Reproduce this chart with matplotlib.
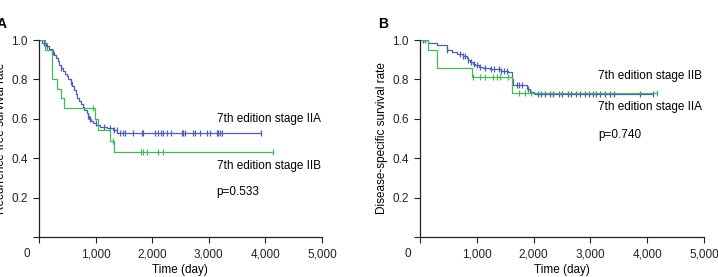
import numpy as np
import matplotlib
matplotlib.use("Agg")
import matplotlib.pyplot as plt
import matplotlib.transforms as mtransforms

plt.rcParams['font.family'] = ['Liberation Sans', 'DejaVu Sans']

# --- panel A: recurrence-free survival ---
a_iia_t = [0, 60, 120, 170, 230, 270, 300, 330, 360, 390, 420, 460, 490, 520, 560, 590,
           620, 650, 680, 710, 740, 770, 800, 840, 870, 890, 920, 960, 1010, 1080, 1200,
           1300, 1380, 3920]
a_iia_s = [1.0, 0.985, 0.97, 0.955, 0.94, 0.925, 0.91, 0.895, 0.875, 0.86, 0.845, 0.83,
           0.815, 0.80, 0.785, 0.765, 0.745, 0.725, 0.705, 0.69, 0.675, 0.66, 0.645, 0.63,
           0.615, 0.60, 0.59, 0.58, 0.57, 0.56, 0.553, 0.545, 0.527, 0.527]
a_iia_cens = [80, 140, 250, 390, 560, 870, 900, 1000, 1150, 1250, 1320, 1372, 1432, 1490,
              1520, 1667, 1814, 1830, 2050, 2097, 2150, 2197, 2256, 2327, 2521, 2550, 2580,
              2715, 2756, 2845, 2975, 3022, 3140, 3170, 3199, 3229, 3920]

a_iib_t = [0, 100, 225, 325, 385, 450, 990, 1050, 1255, 1325, 4135]
a_iib_s = [1.0, 0.95, 0.80, 0.75, 0.705, 0.655, 0.60, 0.545, 0.485, 0.43, 0.43]
a_iib_cens = [960, 1300, 1797, 1832, 1903, 2097, 2197, 4135]

# --- panel B: disease-specific survival ---
b_iia_t = [0, 145, 300, 470, 560, 645, 760, 820, 850, 880, 930, 970, 1040, 1115, 1232,
           1420, 1555, 1615, 1645, 1880, 1935, 2000, 2055, 4106]
b_iia_s = [1.0, 0.983, 0.975, 0.95, 0.94, 0.93, 0.92, 0.91, 0.90, 0.89, 0.88, 0.873,
           0.865, 0.86, 0.853, 0.845, 0.84, 0.80, 0.77, 0.75, 0.735, 0.727, 0.727, 0.727]
b_iia_cens = [60, 90, 470, 700, 760, 800, 850, 900, 950, 1000, 1060, 1150, 1250, 1310, 1390,
              1430, 1480, 1540, 1700, 1750, 1800, 1900, 2080, 2130, 2200, 2280, 2350, 2450,
              2500, 2600, 2650, 2750, 2820, 2900, 2980, 3040, 3100, 3170, 3250, 3350, 3410,
              3880, 4106]

b_iib_t = [0, 145, 305, 920, 1615, 4165]
b_iib_s = [1.0, 0.95, 0.857, 0.81, 0.733, 0.733]
b_iib_cens = [940, 1056, 1144, 1290, 1350, 1408, 1555, 1750, 1850, 1950, 4165]

x_ticks = [0, 1000, 2000, 3000, 4000, 5000]
x_labels = ['0', '1,000', '2,000', '3,000', '4,000', '5,000']
y_ticks = [0, 0.2, 0.4, 0.6, 0.8, 1.0]
y_labels = ['', '0.2', '0.4', '0.6', '0.8', '1.0']

blue = '#4f5eae'
green = '#45b85a'


def surv_at(t_arr, s_arr, t):
    idx = np.searchsorted(t_arr, t, side='right') - 1
    return np.array(s_arr)[idx]


def km(ax, t_arr, s_arr, cens, color):
    ax.step(t_arr, s_arr, where='post', color=color, lw=0.9)
    ax.plot(cens, surv_at(t_arr, s_arr, cens), ls='none', marker='|',
            ms=5, mew=0.9, color=color)


def style(ax, ylabel, fig):
    ax.set_xlim(0, 5000)
    ax.set_ylim(0, 1.0)
    ax.set_xticks(x_ticks)
    ax.set_xticklabels(x_labels)
    ax.set_yticks(y_ticks)
    ax.set_yticklabels(y_labels)
    for s in ['top', 'right']:
        ax.spines[s].set_visible(False)
    for s in ['left', 'bottom']:
        ax.spines[s].set_color('#222222')
        ax.spines[s].set_linewidth(0.9)
    ax.tick_params(length=4, width=0.8, labelsize=8.5, colors='#222222', pad=4)
    # "0" sits left of the origin
    lab0 = ax.get_xticklabels()[0]
    off = mtransforms.ScaledTranslation(-12 / 100, 0, fig.dpi_scale_trans)
    lab0.set_transform(lab0.get_transform() + off)
    ax.set_xlabel('Time (day)', fontsize=8.5, labelpad=3)
    ax.set_ylabel(ylabel, fontsize=8.5, labelpad=3)


fig = plt.figure(figsize=(7.18, 2.77), dpi=100)
ax1 = fig.add_axes([0.0543, 0.1444, 0.394, 0.711])
ax2 = fig.add_axes([0.585, 0.1444, 0.3955, 0.711])

km(ax1, a_iia_t, a_iia_s, a_iia_cens, blue)
km(ax1, a_iib_t, a_iib_s, a_iib_cens, green)
style(ax1, 'Recurrence-free survival rate', fig)
ax1.text(3140, 0.6, '7th edition stage IIA', fontsize=8.5, va='center')
ax1.text(3140, 0.36, '7th edition stage IIB', fontsize=8.5, va='center')
ax1.text(3140, 0.23, 'p=0.533', fontsize=8.5, va='center')

km(ax2, b_iia_t, b_iia_s, b_iia_cens, blue)
km(ax2, b_iib_t, b_iib_s, b_iib_cens, green)
style(ax2, 'Disease-specific survival rate', fig)
ax2.text(3134, 0.817, '7th edition stage IIB', fontsize=8.5, va='center')
ax2.text(3134, 0.66, '7th edition stage IIA', fontsize=8.5, va='center')
ax2.text(3134, 0.52, 'p=0.740', fontsize=8.5, va='center')

fig.text(-0.004, 1 - 24 / 277, 'A', fontsize=10, fontweight='bold', va='center')
fig.text(378 / 718, 1 - 24 / 277, 'B', fontsize=10, fontweight='bold', va='center')

fig.savefig('out.png', dpi=100)
